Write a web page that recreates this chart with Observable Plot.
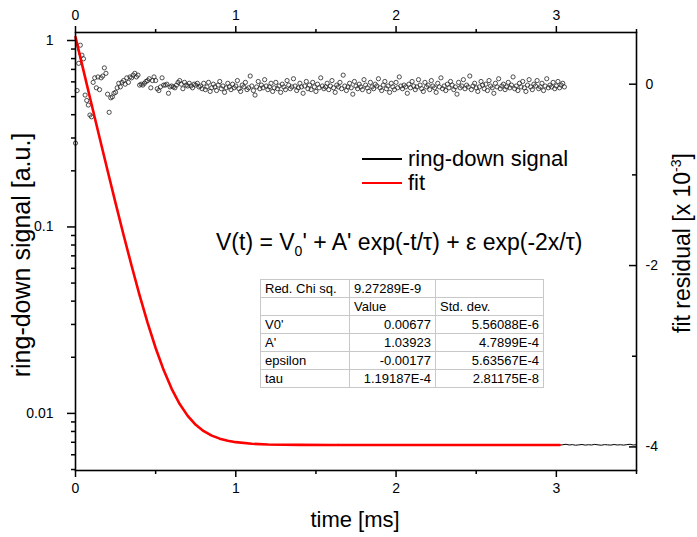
<!DOCTYPE html>
<html>
<head>
<meta charset="utf-8">
<script src="https://cdn.jsdelivr.net/npm/d3@7"></script>
<script src="https://cdn.jsdelivr.net/npm/@observablehq/plot@0.6"></script>
<style>
  body { margin: 0; background: white; }
  #wrap { position: relative; width: 697px; height: 537px; font-family: Arial, "Liberation Sans", sans-serif; color: #000; overflow: hidden; }
  #res, #sig { position: absolute; left: 0; top: 0; }
  .lab { position: absolute; white-space: nowrap; font-size: 22px; transform: translate(-50%, -50%); }
  .rot { transform: translate(-50%, -50%) rotate(-90deg); }
  #eq { position: absolute; left: 216px; top: 229px; font-size: 23px; white-space: nowrap; }
  #eq sub { font-size: 14px; }
  #legend { position: absolute; left: 362px; top: 147px; font-size: 22px; line-height: 24px; }
  .li { display: flex; align-items: center; height: 24px; }
  .sw { width: 40px; margin-right: 6px; }
  table { position: absolute; left: 260px; top: 279px; border-collapse: collapse; font-size: 13px; background: white; border: 1px solid #777; }
  td { border: 1px solid #c8c8c8; height: 17px; padding: 0 4px; line-height: 17px; }
  td.n { text-align: right; }
</style>
</head>
<body>
<div id="wrap">
  <div id="res"></div>
  <div id="sig"></div>
  <div class="lab rot" style="left:21px; top:255px; font-size:25px;">ring-down signal [a.u.]</div>
  <div class="lab rot" style="left:682px; top:243px; font-size:23px;">fit residual [x 10<sup style="font-size:14px">-3</sup>]</div>
  <div class="lab" style="left:355px; top:520px;">time [ms]</div>
  <div id="legend">
    <div class="li"><div class="sw" style="border-top:2px solid #000"></div>ring-down signal</div>
    <div class="li"><div class="sw" style="border-top:2.5px solid #ff0000"></div>fit</div>
  </div>
  <div id="eq">V(t) = V<sub>0</sub>' + A' exp(-t/τ) + ε exp(-2x/τ)</div>
  <table>
    <tr><td style="width:80px">Red. Chi sq.</td><td style="width:77px">9.27289E-9</td><td style="width:99px"></td></tr>
    <tr><td></td><td>Value</td><td>Std. dev.</td></tr>
    <tr><td>V0'</td><td class="n">0.00677</td><td class="n">5.56088E-6</td></tr>
    <tr><td>A'</td><td class="n">1.03923</td><td class="n">4.7899E-4</td></tr>
    <tr><td>epsilon</td><td class="n">-0.00177</td><td class="n">5.63567E-4</td></tr>
    <tr><td>tau</td><td class="n">1.19187E-4</td><td class="n">2.81175E-8</td></tr>
  </table>
</div>
<script>
// ---- data ----
const fitT = [0,0.05,0.1,0.15,0.2,0.25,0.3,0.35,0.4,0.45,0.5,0.55,0.6,0.65,0.7,0.75,0.8,0.85,0.9,0.95,1.0,1.1,1.2,1.4,1.6,2.0,2.5,3.02];
const fitV = [1.044,0.689,0.4555,0.3019,0.2007,0.1343,0.0906,0.0619,0.0430,0.0306,0.02243,0.01707,0.01354,0.01122,0.00970,0.00869,0.00803,0.00760,0.00732,0.00713,0.00701,0.00687,0.00681,0.00678,0.00677,0.00677,0.00677,0.00677];

const sigEarlyStep = 0.05;
const sigEarlyV = [1.0,0.690,0.455,0.302,0.200,0.134,0.0905,0.0619,0.0430,0.0306,0.0224,0.0171,0.01353,0.01123,0.00968,0.00871,0.00802,0.00761,0.00730,0.00714];
const sigLateStart = 1.0, sigLateStep = 0.02;
const sigLateV = [
0.00703,0.00699,0.00694,0.00693,0.00689,0.00687,0.00686,0.00683,0.00684,0.00681,
0.00682,0.00679,0.00680,0.00677,0.00679,0.00676,0.00680,0.00678,0.00675,0.00679,
0.00677,0.00681,0.00676,0.00678,0.00674,0.00679,0.00677,0.00680,0.00675,0.00678,
0.00676,0.00679,0.00682,0.00675,0.00677,0.00674,0.00680,0.00678,0.00676,0.00679,
0.00681,0.00675,0.00677,0.00679,0.00674,0.00678,0.00680,0.00676,0.00678,0.00675,
0.00679,0.00677,0.00681,0.00676,0.00674,0.00679,0.00677,0.00680,0.00675,0.00678,
0.00676,0.00680,0.00678,0.00674,0.00677,0.00681,0.00676,0.00679,0.00675,0.00677,
0.00680,0.00676,0.00678,0.00675,0.00679,0.00677,0.00674,0.00680,0.00678,0.00676,
0.00679,0.00675,0.00677,0.00681,0.00676,0.00678,0.00674,0.00679,0.00677,0.00680,
0.00676,0.00678,0.00675,0.00679,0.00677,0.00681,0.00676,0.00674,0.00678,0.00677,
0.00680,0.00676,0.00679,0.00683,0.00677,0.00680,0.00675,0.00678,0.00681,0.00676,
0.00679,0.00677,0.00682,0.00678,0.00675,0.00680,0.00678,0.00676,0.00681,0.00677,
0.00679,0.00676,0.00680,0.00683,0.00677,0.00679];

const resStart = 0, resStep = 0.01; // residual in units of 1e-3
const residual = [
-0.65,-0.07,0.23,0.43,0.32,0.28,-0.12,-0.18,-0.23,-0.34,
-0.36,0.02,0.07,-0.04,0.08,-0.06,0.07,0.09,0.18,0.12,
-0.11,-0.31,-0.15,-0.14,-0.10,-0.09,-0.04,0.01,-0.03,0.02,
0.04,0.00,0.07,0.02,0.08,0.07,0.10,0.12,0.08,0.10,
-0.01,0.00,-0.01,0.01,0.03,0.04,0.06,-0.04,0.04,0.08,
0.04,-0.05,-0.07,-0.03,0.07,-0.01,-0.01,0.00,-0.10,-0.03,
-0.02,-0.03,-0.04,-0.01,0.02,0.04,0.00,-0.05,0.02,-0.01,
-0.02,0.01,-0.02,-0.04,0.00,-0.01,0.01,-0.03,
-0.02,-0.05,0.01,-0.06,-0.03,0.02,-0.08,-0.04,0.00,-0.03,
-0.07,-0.01,0.03,-0.05,-0.02,-0.09,-0.04,0.01,-0.03,-0.06,
0.00,-0.04,-0.02,0.04,-0.05,-0.08,-0.01,-0.03,0.02,-0.06,
-0.04,0.09,-0.02,-0.07,-0.12,-0.03,0.03,-0.05,-0.01,-0.04,
0.05,-0.02,-0.06,-0.03,0.01,-0.08,-0.04,0.02,-0.05,-0.02,
-0.09,0.00,-0.03,-0.06,0.04,-0.01,-0.05,-0.03,0.06,-0.02,
-0.07,-0.04,0.01,-0.03,-0.10,-0.02,0.03,-0.05,-0.01,-0.06,
0.02,-0.03,-0.08,0.00,-0.04,0.07,-0.02,-0.05,-0.03,0.01,
-0.06,-0.02,0.04,-0.04,-0.09,-0.01,-0.03,0.02,-0.05,0.10,
-0.02,-0.07,-0.03,0.01,-0.04,-0.11,0.03,-0.02,-0.05,0.00,
-0.03,-0.06,0.05,-0.01,-0.04,-0.08,0.02,-0.03,-0.05,0.00,
-0.02,0.06,-0.04,-0.07,-0.01,0.03,-0.05,-0.02,-0.09,0.01,
-0.03,-0.06,0.02,-0.04,0.08,-0.02,-0.05,-0.01,-0.03,-0.10,
0.00,-0.04,0.03,-0.02,-0.06,-0.03,0.05,-0.01,-0.05,-0.08,
0.02,-0.03,-0.01,-0.06,0.04,-0.02,-0.04,-0.09,0.01,-0.03,
0.07,-0.05,-0.02,-0.07,0.00,-0.04,0.03,-0.01,-0.06,-0.03,
-0.11,0.02,-0.04,-0.02,0.05,-0.05,-0.01,-0.03,0.09,-0.06,
-0.02,0.01,-0.04,-0.08,-0.03,0.03,-0.01,-0.05,0.00,-0.07,
0.04,-0.02,-0.04,-0.10,0.01,-0.03,0.06,-0.05,-0.02,0.00,
-0.06,-0.03,0.02,-0.04,-0.01,0.08,-0.05,-0.02,-0.07,0.01,
-0.03,0.03,-0.04,-0.08,-0.01,0.05,-0.03,-0.06,0.00,-0.02,
0.04,-0.05,-0.03,0.01,-0.07,-0.02,0.06,-0.04,-0.01,-0.03,
0.02,-0.05,-0.02,0.03,-0.04,-0.01,0.01,-0.03];

const xMajor = [0,1,2,3];
const xMinor = [0.5,1.5,2.5,3.5];
const yMajor = [0.01,0.1,1];
const yMinor = [0.005,0.006,0.007,0.008,0.009,0.02,0.03,0.04,0.05,0.06,0.07,0.08,0.09,0.2,0.3,0.4,0.5,0.6,0.7,0.8,0.9];
const rMajor = [0,-2,-4];
const rMinor = [-1,-3];

// ---- tables ----
const fitData = fitT.map((t,i) => ({t, v: fitV[i]}));
const sigData = sigEarlyV.map((v,i) => ({t: i*sigEarlyStep, v}))
  .concat(sigLateV.map((v,i) => ({t: sigLateStart + i*sigLateStep, v})));
const resData = residual.map((r,i) => ({t: resStart + i*resStep, r}));

const W = 697, H = 537;
const M = {marginLeft: 75, marginRight: 61, marginTop: 32, marginBottom: 67};
const font = "Arial, 'Liberation Sans', sans-serif";

const resPlot = Plot.plot({
  width: W, height: H, ...M,
  style: {background: "transparent", fontFamily: font, fontSize: "14px", color: "black"},
  x: {domain: [0, 3.5], axis: null},
  y: {domain: [-4.26, 0.57]},
  marks: [
    Plot.dot(resData, {x: "t", y: "r", r: 2.1, stroke: "#222", strokeWidth: 0.8, fill: "none"}),
    Plot.axisY({anchor: "right", ticks: rMajor, tickSize: 8, dx: -8, tickFormat: () => "", label: null, strokeWidth: 1.5}),
    Plot.axisY({anchor: "right", ticks: rMinor, tickSize: 5, dx: -5, tickFormat: () => "", label: null, strokeWidth: 1.5}),
    Plot.axisY({anchor: "right", ticks: rMajor, tickSize: 0, tickPadding: 9, tickFormat: d => String(d), label: null})
  ]
});
document.getElementById("res").appendChild(resPlot);

const sigPlot = Plot.plot({
  width: W, height: H, ...M,
  style: {background: "transparent", fontFamily: font, fontSize: "14px", color: "black"},
  x: {domain: [0, 3.5]},
  y: {type: "log", domain: [0.00494, 1.104]},
  marks: [
    Plot.line(sigData, {x: "t", y: "v", stroke: "#000", strokeWidth: 1}),
    Plot.line(fitData, {x: "t", y: "v", stroke: "#ff0000", strokeWidth: 2.6}),
    Plot.axisX({anchor: "bottom", ticks: xMajor, tickSize: 7, tickPadding: 6, tickFormat: d => String(d), label: null, strokeWidth: 1.5}),
    Plot.axisX({anchor: "bottom", ticks: xMinor, tickSize: 4, tickFormat: () => "", label: null, strokeWidth: 1.5}),
    Plot.axisX({anchor: "top", ticks: xMajor, tickSize: 7, tickPadding: 6, tickFormat: d => String(d), label: null, strokeWidth: 1.5}),
    Plot.axisX({anchor: "top", ticks: xMinor, tickSize: 4, tickFormat: () => "", label: null, strokeWidth: 1.5}),
    Plot.axisY({anchor: "left", ticks: yMajor, tickSize: 8, tickPadding: 14, tickFormat: d => String(d), label: null, strokeWidth: 1.5}),
    Plot.axisY({anchor: "left", ticks: yMinor, tickSize: 4, tickFormat: () => "", label: null, strokeWidth: 1.5}),
    Plot.frame({stroke: "#000", strokeWidth: 1.6})
  ]
});
document.getElementById("sig").appendChild(sigPlot);
</script>
</body>
</html>
